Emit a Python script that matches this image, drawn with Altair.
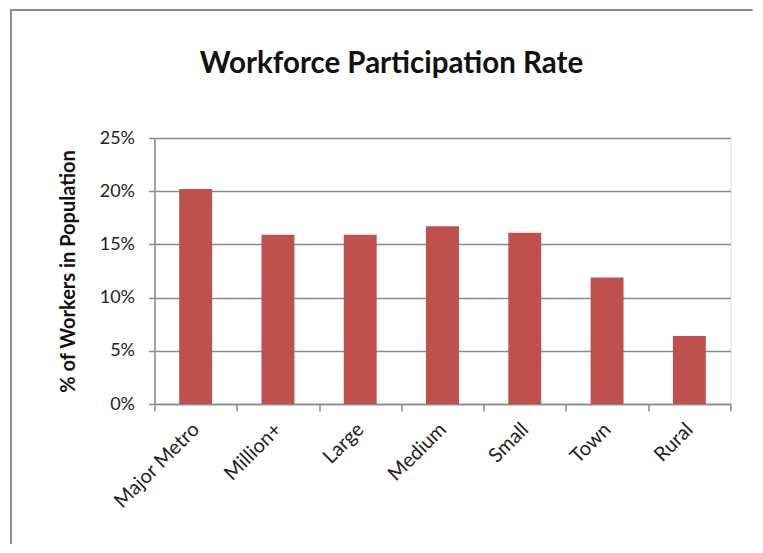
import altair as alt
import pandas as pd

categories = ["Major Metro", "Million+", "Large", "Medium", "Small", "Town", "Rural"]
rates = [0.202, 0.159, 0.159, 0.167, 0.161, 0.119, 0.064]
y_ticks = [0, 0.05, 0.10, 0.15, 0.20, 0.25]

df = pd.DataFrame({"category": categories, "rate": rates})

FONT = "Lato"
GRAY = "#8a8a8a"
W, H = 576, 266
one = pd.DataFrame({"a": [0]})

frame_left = alt.Chart(one).mark_rule(color="#8c8c8c", strokeWidth=2).encode(
    x=alt.value(-143.5), y=alt.value(-128), y2=alt.value(H + 140),
)
frame_top = alt.Chart(one).mark_rule(color="#8c8c8c", strokeWidth=2).encode(
    x=alt.value(-144.5), x2=alt.value(W + 22), y=alt.value(-128),
)

bars = alt.Chart(df).mark_bar(
    color="#C0504D", width=alt.RelativeBandSize(0.4)
).encode(
    x=alt.X(
        "category:N", sort=categories,
        scale=alt.Scale(paddingInner=0, paddingOuter=0),
        axis=alt.Axis(
            title=None, labelAngle=-45, labelFontSize=20, labelFont=FONT,
            labelColor="#222222", tickBand="extent", tickSize=7,
            tickColor=GRAY, tickWidth=1.5, domainColor=GRAY, domainWidth=1.5,
            labelPadding=8, labelOffset=-7, grid=False,
        ),
    ),
    y=alt.Y(
        "rate:Q",
        scale=alt.Scale(domain=[0, 0.25], nice=False),
        axis=alt.Axis(
            title="% of Workers in Population", format=".0%", values=y_ticks,
            labelFontSize=18, labelFont=FONT, labelColor="#222222",
            labelPadding=14, tickSize=6, tickColor=GRAY, tickWidth=1.5,
            domainColor=GRAY, domainWidth=1.5, gridColor=GRAY, gridWidth=1.5,
            titleFont=FONT, titleFontSize=20, titleFontWeight="bold",
            titleColor="#111111", titlePadding=21,
        ),
    ),
)

chart = alt.layer(frame_left, frame_top, bars).properties(
    width=W, height=H,
    title=alt.TitleParams(
        "Workforce Participation Rate", font=FONT, fontSize=29.5,
        fontWeight="bold", color="#111111", anchor="middle", dx=-51,
        offset=-93, baseline="alphabetic",
    ),
    autosize=alt.AutoSizeParams(type="none"),
    padding={"left": 146.5, "top": 130, "right": 22, "bottom": 140},
).configure_view(stroke=None).configure(background="white")

chart.save("out.html", embed_options={"renderer": "svg", "actions": False})
